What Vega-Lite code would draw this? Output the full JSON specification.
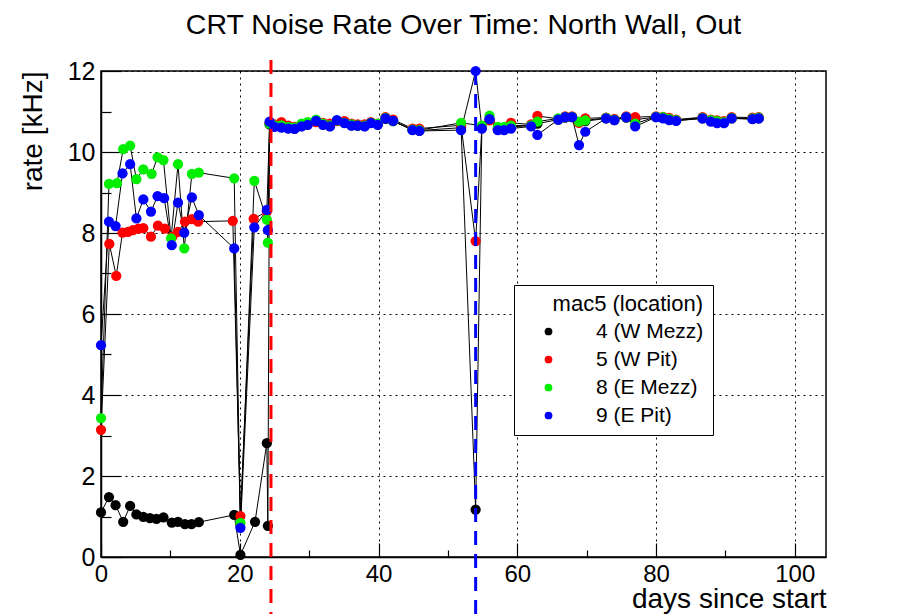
{
  "$schema": "https://vega.github.io/schema/vega-lite/v6.json",
  "width": 725,
  "height": 486,
  "autosize": "none",
  "padding": {"left": 101, "top": 71, "right": 82, "bottom": 57},
  "background": "white",
  "config": {"font": "Liberation Sans", "view": {"stroke": "black", "strokeWidth": 1.5}},
  "title": {"text": "CRT Noise Rate Over Time: North Wall, Out", "fontSize": 28.5, "fontWeight": "normal", "color": "black", "anchor": "middle", "frame": "group", "baseline": "bottom", "offset": 28, "dy": 38},
  "datasets": {
    "rates": [
      {"mac": "4 (W Mezz)", "day": 0, "rate": 1.10}, {"mac": "4 (W Mezz)", "day": 1.15, "rate": 1.48}, {"mac": "4 (W Mezz)", "day": 2.1, "rate": 1.28}, {"mac": "4 (W Mezz)", "day": 3.2, "rate": 0.87}, {"mac": "4 (W Mezz)", "day": 4.2, "rate": 1.26}, {"mac": "4 (W Mezz)", "day": 5.1, "rate": 1.05}, {"mac": "4 (W Mezz)", "day": 6.1, "rate": 0.99}, {"mac": "4 (W Mezz)", "day": 7.05, "rate": 0.96}, {"mac": "4 (W Mezz)", "day": 8.0, "rate": 0.94}, {"mac": "4 (W Mezz)", "day": 9.0, "rate": 0.98}, {"mac": "4 (W Mezz)", "day": 10.2, "rate": 0.85}, {"mac": "4 (W Mezz)", "day": 11.1, "rate": 0.87}, {"mac": "4 (W Mezz)", "day": 12.1, "rate": 0.81}, {"mac": "4 (W Mezz)", "day": 13.05, "rate": 0.81}, {"mac": "4 (W Mezz)", "day": 14.1, "rate": 0.86}, {"mac": "4 (W Mezz)", "day": 19.2, "rate": 1.04}, {"mac": "4 (W Mezz)", "day": 20.1, "rate": 0.05}, {"mac": "4 (W Mezz)", "day": 22.2, "rate": 0.87}, {"mac": "4 (W Mezz)", "day": 23.9, "rate": 2.81}, {"mac": "4 (W Mezz)", "day": 24.05, "rate": 0.77},
      {"mac": "4 (W Mezz)", "day": 24.3, "rate": 10.68}, {"mac": "4 (W Mezz)", "day": 25.0, "rate": 10.64}, {"mac": "4 (W Mezz)", "day": 26.0, "rate": 10.62}, {"mac": "4 (W Mezz)", "day": 27.0, "rate": 10.60}, {"mac": "4 (W Mezz)", "day": 27.9, "rate": 10.58}, {"mac": "4 (W Mezz)", "day": 28.9, "rate": 10.64}, {"mac": "4 (W Mezz)", "day": 29.8, "rate": 10.68}, {"mac": "4 (W Mezz)", "day": 31.0, "rate": 10.75}, {"mac": "4 (W Mezz)", "day": 32.0, "rate": 10.68}, {"mac": "4 (W Mezz)", "day": 33.0, "rate": 10.64}, {"mac": "4 (W Mezz)", "day": 34.0, "rate": 10.77}, {"mac": "4 (W Mezz)", "day": 35.1, "rate": 10.72}, {"mac": "4 (W Mezz)", "day": 36.1, "rate": 10.66}, {"mac": "4 (W Mezz)", "day": 37.0, "rate": 10.65}, {"mac": "4 (W Mezz)", "day": 38.0, "rate": 10.64}, {"mac": "4 (W Mezz)", "day": 38.9, "rate": 10.72}, {"mac": "4 (W Mezz)", "day": 39.9, "rate": 10.68}, {"mac": "4 (W Mezz)", "day": 41.0, "rate": 10.82}, {"mac": "4 (W Mezz)", "day": 42.1, "rate": 10.76}, {"mac": "4 (W Mezz)", "day": 44.9, "rate": 10.55}, {"mac": "4 (W Mezz)", "day": 45.9, "rate": 10.53}, {"mac": "4 (W Mezz)", "day": 51.9, "rate": 10.60}, {"mac": "4 (W Mezz)", "day": 54.0, "rate": 1.17}, {"mac": "4 (W Mezz)", "day": 54.9, "rate": 10.60}, {"mac": "4 (W Mezz)", "day": 56.0, "rate": 10.80}, {"mac": "4 (W Mezz)", "day": 57.2, "rate": 10.56}, {"mac": "4 (W Mezz)", "day": 58.1, "rate": 10.56}, {"mac": "4 (W Mezz)", "day": 59.1, "rate": 10.62}, {"mac": "4 (W Mezz)", "day": 62.0, "rate": 10.65}, {"mac": "4 (W Mezz)", "day": 62.9, "rate": 10.70}, {"mac": "4 (W Mezz)", "day": 65.9, "rate": 10.80}, {"mac": "4 (W Mezz)", "day": 66.9, "rate": 10.85}, {"mac": "4 (W Mezz)", "day": 67.9, "rate": 10.86}, {"mac": "4 (W Mezz)", "day": 68.9, "rate": 10.74}, {"mac": "4 (W Mezz)", "day": 69.8, "rate": 10.76}, {"mac": "4 (W Mezz)", "day": 72.8, "rate": 10.83}, {"mac": "4 (W Mezz)", "day": 74.0, "rate": 10.79}, {"mac": "4 (W Mezz)", "day": 75.7, "rate": 10.85}, {"mac": "4 (W Mezz)", "day": 77.0, "rate": 10.80}, {"mac": "4 (W Mezz)", "day": 80.0, "rate": 10.86}, {"mac": "4 (W Mezz)", "day": 81.0, "rate": 10.84}, {"mac": "4 (W Mezz)", "day": 81.9, "rate": 10.80}, {"mac": "4 (W Mezz)", "day": 82.9, "rate": 10.78}, {"mac": "4 (W Mezz)", "day": 86.7, "rate": 10.83}, {"mac": "4 (W Mezz)", "day": 87.9, "rate": 10.77}, {"mac": "4 (W Mezz)", "day": 88.8, "rate": 10.74}, {"mac": "4 (W Mezz)", "day": 89.8, "rate": 10.73}, {"mac": "4 (W Mezz)", "day": 90.9, "rate": 10.83}, {"mac": "4 (W Mezz)", "day": 93.9, "rate": 10.82}, {"mac": "4 (W Mezz)", "day": 94.8, "rate": 10.83},

      {"mac": "5 (W Pit)", "day": 0, "rate": 3.14}, {"mac": "5 (W Pit)", "day": 1.2, "rate": 7.73}, {"mac": "5 (W Pit)", "day": 2.2, "rate": 6.94}, {"mac": "5 (W Pit)", "day": 3.1, "rate": 8.01}, {"mac": "5 (W Pit)", "day": 3.9, "rate": 8.03}, {"mac": "5 (W Pit)", "day": 4.6, "rate": 8.07}, {"mac": "5 (W Pit)", "day": 5.4, "rate": 8.11}, {"mac": "5 (W Pit)", "day": 6.1, "rate": 8.12}, {"mac": "5 (W Pit)", "day": 7.2, "rate": 7.91}, {"mac": "5 (W Pit)", "day": 8.2, "rate": 8.18}, {"mac": "5 (W Pit)", "day": 9.2, "rate": 8.11}, {"mac": "5 (W Pit)", "day": 10.3, "rate": 7.91}, {"mac": "5 (W Pit)", "day": 11.1, "rate": 8.03}, {"mac": "5 (W Pit)", "day": 12.1, "rate": 8.28}, {"mac": "5 (W Pit)", "day": 13.1, "rate": 8.34}, {"mac": "5 (W Pit)", "day": 14.0, "rate": 8.28}, {"mac": "5 (W Pit)", "day": 19.0, "rate": 8.30}, {"mac": "5 (W Pit)", "day": 20.1, "rate": 1.01}, {"mac": "5 (W Pit)", "day": 22.0, "rate": 8.35}, {"mac": "5 (W Pit)", "day": 23.9, "rate": 8.53},
      {"mac": "5 (W Pit)", "day": 24.3, "rate": 10.72}, {"mac": "5 (W Pit)", "day": 25.0, "rate": 10.68}, {"mac": "5 (W Pit)", "day": 26.0, "rate": 10.74}, {"mac": "5 (W Pit)", "day": 27.0, "rate": 10.65}, {"mac": "5 (W Pit)", "day": 27.9, "rate": 10.62}, {"mac": "5 (W Pit)", "day": 28.9, "rate": 10.68}, {"mac": "5 (W Pit)", "day": 29.8, "rate": 10.72}, {"mac": "5 (W Pit)", "day": 31.0, "rate": 10.74}, {"mac": "5 (W Pit)", "day": 32.0, "rate": 10.72}, {"mac": "5 (W Pit)", "day": 33.0, "rate": 10.70}, {"mac": "5 (W Pit)", "day": 34.0, "rate": 10.76}, {"mac": "5 (W Pit)", "day": 35.1, "rate": 10.76}, {"mac": "5 (W Pit)", "day": 36.1, "rate": 10.70}, {"mac": "5 (W Pit)", "day": 37.0, "rate": 10.68}, {"mac": "5 (W Pit)", "day": 38.0, "rate": 10.68}, {"mac": "5 (W Pit)", "day": 38.9, "rate": 10.74}, {"mac": "5 (W Pit)", "day": 39.9, "rate": 10.70}, {"mac": "5 (W Pit)", "day": 41.0, "rate": 10.86}, {"mac": "5 (W Pit)", "day": 42.1, "rate": 10.80}, {"mac": "5 (W Pit)", "day": 44.9, "rate": 10.58}, {"mac": "5 (W Pit)", "day": 45.9, "rate": 10.58}, {"mac": "5 (W Pit)", "day": 51.9, "rate": 10.66}, {"mac": "5 (W Pit)", "day": 54.0, "rate": 7.80}, {"mac": "5 (W Pit)", "day": 54.9, "rate": 10.62}, {"mac": "5 (W Pit)", "day": 56.0, "rate": 10.78}, {"mac": "5 (W Pit)", "day": 57.2, "rate": 10.58}, {"mac": "5 (W Pit)", "day": 58.1, "rate": 10.60}, {"mac": "5 (W Pit)", "day": 59.1, "rate": 10.72}, {"mac": "5 (W Pit)", "day": 62.0, "rate": 10.68}, {"mac": "5 (W Pit)", "day": 62.9, "rate": 10.89}, {"mac": "5 (W Pit)", "day": 65.9, "rate": 10.82}, {"mac": "5 (W Pit)", "day": 66.9, "rate": 10.88}, {"mac": "5 (W Pit)", "day": 67.9, "rate": 10.88}, {"mac": "5 (W Pit)", "day": 68.9, "rate": 10.72}, {"mac": "5 (W Pit)", "day": 69.8, "rate": 10.83}, {"mac": "5 (W Pit)", "day": 72.8, "rate": 10.85}, {"mac": "5 (W Pit)", "day": 74.0, "rate": 10.82}, {"mac": "5 (W Pit)", "day": 75.7, "rate": 10.88}, {"mac": "5 (W Pit)", "day": 77.0, "rate": 10.86}, {"mac": "5 (W Pit)", "day": 80.0, "rate": 10.88}, {"mac": "5 (W Pit)", "day": 81.0, "rate": 10.87}, {"mac": "5 (W Pit)", "day": 81.9, "rate": 10.84}, {"mac": "5 (W Pit)", "day": 82.9, "rate": 10.80}, {"mac": "5 (W Pit)", "day": 86.7, "rate": 10.86}, {"mac": "5 (W Pit)", "day": 87.9, "rate": 10.80}, {"mac": "5 (W Pit)", "day": 88.8, "rate": 10.78}, {"mac": "5 (W Pit)", "day": 89.8, "rate": 10.76}, {"mac": "5 (W Pit)", "day": 90.9, "rate": 10.86}, {"mac": "5 (W Pit)", "day": 93.9, "rate": 10.85}, {"mac": "5 (W Pit)", "day": 94.8, "rate": 10.86},

      {"mac": "8 (E Mezz)", "day": 0, "rate": 3.43}, {"mac": "8 (E Mezz)", "day": 1.15, "rate": 9.21}, {"mac": "8 (E Mezz)", "day": 2.3, "rate": 9.23}, {"mac": "8 (E Mezz)", "day": 3.2, "rate": 10.07}, {"mac": "8 (E Mezz)", "day": 4.2, "rate": 10.16}, {"mac": "8 (E Mezz)", "day": 5.1, "rate": 9.33}, {"mac": "8 (E Mezz)", "day": 6.1, "rate": 9.57}, {"mac": "8 (E Mezz)", "day": 7.3, "rate": 9.46}, {"mac": "8 (E Mezz)", "day": 8.15, "rate": 9.87}, {"mac": "8 (E Mezz)", "day": 9.0, "rate": 9.80}, {"mac": "8 (E Mezz)", "day": 10.1, "rate": 7.87}, {"mac": "8 (E Mezz)", "day": 11.1, "rate": 9.70}, {"mac": "8 (E Mezz)", "day": 12.0, "rate": 7.62}, {"mac": "8 (E Mezz)", "day": 13.1, "rate": 9.46}, {"mac": "8 (E Mezz)", "day": 14.1, "rate": 9.49}, {"mac": "8 (E Mezz)", "day": 19.2, "rate": 9.35}, {"mac": "8 (E Mezz)", "day": 20.1, "rate": 0.84}, {"mac": "8 (E Mezz)", "day": 22.1, "rate": 9.29}, {"mac": "8 (E Mezz)", "day": 23.9, "rate": 8.33}, {"mac": "8 (E Mezz)", "day": 24.05, "rate": 7.76},
      {"mac": "8 (E Mezz)", "day": 24.3, "rate": 10.70}, {"mac": "8 (E Mezz)", "day": 25.0, "rate": 10.66}, {"mac": "8 (E Mezz)", "day": 26.0, "rate": 10.66}, {"mac": "8 (E Mezz)", "day": 27.0, "rate": 10.62}, {"mac": "8 (E Mezz)", "day": 27.9, "rate": 10.60}, {"mac": "8 (E Mezz)", "day": 28.9, "rate": 10.70}, {"mac": "8 (E Mezz)", "day": 29.8, "rate": 10.74}, {"mac": "8 (E Mezz)", "day": 31.0, "rate": 10.80}, {"mac": "8 (E Mezz)", "day": 32.0, "rate": 10.70}, {"mac": "8 (E Mezz)", "day": 33.0, "rate": 10.66}, {"mac": "8 (E Mezz)", "day": 34.0, "rate": 10.78}, {"mac": "8 (E Mezz)", "day": 35.1, "rate": 10.72}, {"mac": "8 (E Mezz)", "day": 36.1, "rate": 10.68}, {"mac": "8 (E Mezz)", "day": 37.0, "rate": 10.66}, {"mac": "8 (E Mezz)", "day": 38.0, "rate": 10.65}, {"mac": "8 (E Mezz)", "day": 38.9, "rate": 10.72}, {"mac": "8 (E Mezz)", "day": 39.9, "rate": 10.70}, {"mac": "8 (E Mezz)", "day": 41.0, "rate": 10.84}, {"mac": "8 (E Mezz)", "day": 42.1, "rate": 10.76}, {"mac": "8 (E Mezz)", "day": 44.9, "rate": 10.55}, {"mac": "8 (E Mezz)", "day": 45.9, "rate": 10.54}, {"mac": "8 (E Mezz)", "day": 51.9, "rate": 10.72}, {"mac": "8 (E Mezz)", "day": 54.9, "rate": 10.65}, {"mac": "8 (E Mezz)", "day": 56.0, "rate": 10.90}, {"mac": "8 (E Mezz)", "day": 57.2, "rate": 10.62}, {"mac": "8 (E Mezz)", "day": 58.1, "rate": 10.62}, {"mac": "8 (E Mezz)", "day": 59.1, "rate": 10.65}, {"mac": "8 (E Mezz)", "day": 62.0, "rate": 10.66}, {"mac": "8 (E Mezz)", "day": 62.9, "rate": 10.75}, {"mac": "8 (E Mezz)", "day": 65.9, "rate": 10.83}, {"mac": "8 (E Mezz)", "day": 66.9, "rate": 10.86}, {"mac": "8 (E Mezz)", "day": 67.9, "rate": 10.87}, {"mac": "8 (E Mezz)", "day": 68.9, "rate": 10.75}, {"mac": "8 (E Mezz)", "day": 69.8, "rate": 10.78}, {"mac": "8 (E Mezz)", "day": 72.8, "rate": 10.84}, {"mac": "8 (E Mezz)", "day": 74.0, "rate": 10.80}, {"mac": "8 (E Mezz)", "day": 75.7, "rate": 10.86}, {"mac": "8 (E Mezz)", "day": 77.0, "rate": 10.70}, {"mac": "8 (E Mezz)", "day": 80.0, "rate": 10.87}, {"mac": "8 (E Mezz)", "day": 81.0, "rate": 10.86}, {"mac": "8 (E Mezz)", "day": 81.9, "rate": 10.82}, {"mac": "8 (E Mezz)", "day": 82.9, "rate": 10.79}, {"mac": "8 (E Mezz)", "day": 86.7, "rate": 10.84}, {"mac": "8 (E Mezz)", "day": 87.9, "rate": 10.79}, {"mac": "8 (E Mezz)", "day": 88.8, "rate": 10.76}, {"mac": "8 (E Mezz)", "day": 89.8, "rate": 10.74}, {"mac": "8 (E Mezz)", "day": 90.9, "rate": 10.84}, {"mac": "8 (E Mezz)", "day": 93.9, "rate": 10.83}, {"mac": "8 (E Mezz)", "day": 94.8, "rate": 10.85},

      {"mac": "9 (E Pit)", "day": 0, "rate": 5.23}, {"mac": "9 (E Pit)", "day": 1.15, "rate": 8.28}, {"mac": "9 (E Pit)", "day": 2.1, "rate": 8.17}, {"mac": "9 (E Pit)", "day": 3.1, "rate": 9.47}, {"mac": "9 (E Pit)", "day": 4.2, "rate": 9.70}, {"mac": "9 (E Pit)", "day": 5.1, "rate": 8.36}, {"mac": "9 (E Pit)", "day": 6.1, "rate": 8.83}, {"mac": "9 (E Pit)", "day": 7.2, "rate": 8.53}, {"mac": "9 (E Pit)", "day": 8.15, "rate": 8.91}, {"mac": "9 (E Pit)", "day": 9.1, "rate": 8.86}, {"mac": "9 (E Pit)", "day": 10.2, "rate": 7.70}, {"mac": "9 (E Pit)", "day": 11.1, "rate": 8.75}, {"mac": "9 (E Pit)", "day": 12.0, "rate": 8.01}, {"mac": "9 (E Pit)", "day": 13.1, "rate": 8.88}, {"mac": "9 (E Pit)", "day": 14.1, "rate": 8.44}, {"mac": "9 (E Pit)", "day": 19.2, "rate": 7.62}, {"mac": "9 (E Pit)", "day": 20.1, "rate": 0.72}, {"mac": "9 (E Pit)", "day": 22.1, "rate": 8.14}, {"mac": "9 (E Pit)", "day": 23.9, "rate": 8.57}, {"mac": "9 (E Pit)", "day": 24.05, "rate": 8.07},
      {"mac": "9 (E Pit)", "day": 24.3, "rate": 10.75}, {"mac": "9 (E Pit)", "day": 25.0, "rate": 10.62}, {"mac": "9 (E Pit)", "day": 26.0, "rate": 10.60}, {"mac": "9 (E Pit)", "day": 27.0, "rate": 10.58}, {"mac": "9 (E Pit)", "day": 27.9, "rate": 10.57}, {"mac": "9 (E Pit)", "day": 28.9, "rate": 10.63}, {"mac": "9 (E Pit)", "day": 29.8, "rate": 10.67}, {"mac": "9 (E Pit)", "day": 31.0, "rate": 10.77}, {"mac": "9 (E Pit)", "day": 32.0, "rate": 10.67}, {"mac": "9 (E Pit)", "day": 33.0, "rate": 10.63}, {"mac": "9 (E Pit)", "day": 34.0, "rate": 10.79}, {"mac": "9 (E Pit)", "day": 35.1, "rate": 10.71}, {"mac": "9 (E Pit)", "day": 36.1, "rate": 10.65}, {"mac": "9 (E Pit)", "day": 37.0, "rate": 10.65}, {"mac": "9 (E Pit)", "day": 38.0, "rate": 10.63}, {"mac": "9 (E Pit)", "day": 38.9, "rate": 10.71}, {"mac": "9 (E Pit)", "day": 39.9, "rate": 10.67}, {"mac": "9 (E Pit)", "day": 41.0, "rate": 10.83}, {"mac": "9 (E Pit)", "day": 42.1, "rate": 10.77}, {"mac": "9 (E Pit)", "day": 44.9, "rate": 10.54}, {"mac": "9 (E Pit)", "day": 45.9, "rate": 10.52}, {"mac": "9 (E Pit)", "day": 51.9, "rate": 10.54}, {"mac": "9 (E Pit)", "day": 54.0, "rate": 12.0}, {"mac": "9 (E Pit)", "day": 54.9, "rate": 10.58}, {"mac": "9 (E Pit)", "day": 56.0, "rate": 10.81}, {"mac": "9 (E Pit)", "day": 57.2, "rate": 10.54}, {"mac": "9 (E Pit)", "day": 58.1, "rate": 10.54}, {"mac": "9 (E Pit)", "day": 59.1, "rate": 10.58}, {"mac": "9 (E Pit)", "day": 62.0, "rate": 10.63}, {"mac": "9 (E Pit)", "day": 62.9, "rate": 10.42}, {"mac": "9 (E Pit)", "day": 65.9, "rate": 10.80}, {"mac": "9 (E Pit)", "day": 66.9, "rate": 10.86}, {"mac": "9 (E Pit)", "day": 67.9, "rate": 10.86}, {"mac": "9 (E Pit)", "day": 68.9, "rate": 10.17}, {"mac": "9 (E Pit)", "day": 69.8, "rate": 10.50}, {"mac": "9 (E Pit)", "day": 72.8, "rate": 10.83}, {"mac": "9 (E Pit)", "day": 74.0, "rate": 10.79}, {"mac": "9 (E Pit)", "day": 75.7, "rate": 10.86}, {"mac": "9 (E Pit)", "day": 77.0, "rate": 10.63}, {"mac": "9 (E Pit)", "day": 80.0, "rate": 10.86}, {"mac": "9 (E Pit)", "day": 81.0, "rate": 10.83}, {"mac": "9 (E Pit)", "day": 81.9, "rate": 10.79}, {"mac": "9 (E Pit)", "day": 82.9, "rate": 10.77}, {"mac": "9 (E Pit)", "day": 86.7, "rate": 10.83}, {"mac": "9 (E Pit)", "day": 87.9, "rate": 10.75}, {"mac": "9 (E Pit)", "day": 88.8, "rate": 10.71}, {"mac": "9 (E Pit)", "day": 89.8, "rate": 10.71}, {"mac": "9 (E Pit)", "day": 90.9, "rate": 10.83}, {"mac": "9 (E Pit)", "day": 93.9, "rate": 10.81}, {"mac": "9 (E Pit)", "day": 94.8, "rate": 10.83}
    ]
  },
  "layer": [
    {
      "data": {"name": "rates"},
      "mark": {"type": "line", "color": "black", "strokeWidth": 1},
      "encoding": {
        "x": {"field": "day", "type": "quantitative", "scale": {"domain": [0, 104.5], "nice": false, "zero": false},
          "axis": {"title": "days since start", "values": [0,5,10,15,20,25,30,35,40,45,50,55,60,65,70,75,80,85,90,95,100],
            "labelExpr": "datum.value % 20 === 0 ? datum.label : ''", "labelFontSize": 24, "labelColor": "black", "labelPadding": 19, "labelFlush": false, "labelOverlap": false,
            "tickSize": {"condition": {"test": "datum.value % 20 === 0", "value": -14}, "value": -7}, "tickColor": "black", "tickWidth": 1.2,
            "domainColor": "black", "domainWidth": 1.5,
            "grid": true, "gridColor": "black", "gridDash": [2, 4], "gridWidth": 1,
            "gridOpacity": {"condition": {"test": "datum.value % 20 === 0", "value": 1}, "value": 0},
            "titleFontSize": 28, "titleFontWeight": "normal", "titleColor": "black", "titleAnchor": "end", "titleAlign": "right", "titleBaseline": "alphabetic", "titleX": 725, "titleY": 50}},
        "y": {"field": "rate", "type": "quantitative", "scale": {"domain": [0, 12], "nice": false, "zero": false},
          "axis": {"title": "rate [kHz]", "values": [0,0.5,1,1.5,2,2.5,3,3.5,4,4.5,5,5.5,6,6.5,7,7.5,8,8.5,9,9.5,10,10.5,11,11.5,12],
            "labelExpr": "datum.value % 2 === 0 ? datum.label : ''", "labelFontSize": 25, "labelColor": "black", "labelPadding": 26, "labelFlush": false, "labelOverlap": false,
            "tickSize": {"condition": {"test": "datum.value % 2 === 0", "value": -20}, "value": -10}, "tickColor": "black", "tickWidth": 1.2,
            "domainColor": "black", "domainWidth": 1.5,
            "grid": true, "gridColor": "black", "gridDash": [2, 4], "gridWidth": 1,
            "gridOpacity": {"condition": {"test": "datum.value % 2 === 0", "value": 1}, "value": 0},
            "titleFontSize": 28, "titleFontWeight": "normal", "titleColor": "black", "titleAnchor": "end", "titlePadding": 20}},
        "detail": {"field": "mac", "type": "nominal"}
      }
    },
    {
      "data": {"name": "rates"},
      "mark": {"type": "circle", "size": 105, "opacity": 1},
      "encoding": {
        "x": {"field": "day", "type": "quantitative"},
        "y": {"field": "rate", "type": "quantitative"},
        "color": {"field": "mac", "type": "nominal",
          "scale": {"domain": ["4 (W Mezz)", "5 (W Pit)", "8 (E Mezz)", "9 (E Pit)"], "range": ["#000000", "#ff0000", "#00ee00", "#0000ff"]},
          "legend": {"title": "mac5 (location)", "orient": "none", "legendX": 413, "legendY": 214, "fillColor": "white", "strokeColor": "black",
            "padding": 9, "titleFontSize": 22, "titleFontWeight": "normal", "titleColor": "black", "titleAnchor": "end", "titlePadding": 5,
            "labelFontSize": 21, "labelColor": "black", "symbolType": "circle", "symbolSize": 60, "symbolOffset": 15, "labelOffset": 37, "rowPadding": 6}}
      }
    },
    {
      "data": {"values": [{}]},
      "mark": {"type": "rule", "color": "#ff0000", "strokeWidth": 3, "strokeDash": [14, 9]},
      "encoding": {"x": {"datum": 24.5, "type": "quantitative"}, "y": {"datum": 12.27, "type": "quantitative"}, "y2": {"datum": -2}}
    },
    {
      "data": {"values": [{}]},
      "mark": {"type": "rule", "color": "#0000ff", "strokeWidth": 3, "strokeDash": [14, 9]},
      "encoding": {"x": {"datum": 54, "type": "quantitative"}, "y": {"datum": 12.0, "type": "quantitative"}, "y2": {"datum": -2}}
    }
  ]
}
